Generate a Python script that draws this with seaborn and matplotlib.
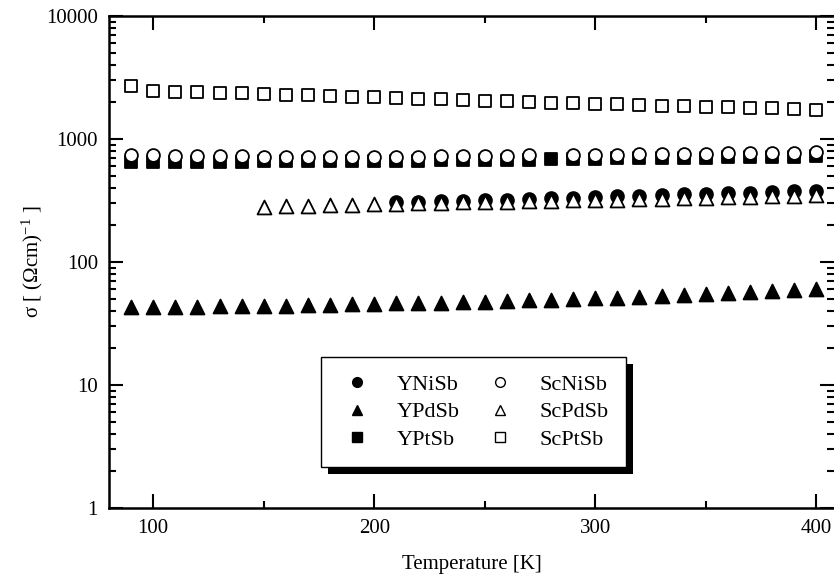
import numpy as np
import pandas as pd
import matplotlib
matplotlib.use("Agg")
import matplotlib.pyplot as plt
from matplotlib.lines import Line2D
from matplotlib.patches import Rectangle
from matplotlib.ticker import FuncFormatter, LogLocator, MultipleLocator
import seaborn as sns

# Data
t_full = list(range(90, 401, 10))
sc_pt = [2700, 2450, 2420, 2400, 2380, 2360, 2330, 2300, 2270, 2240, 2210,
         2180, 2160, 2130, 2100, 2080, 2050, 2030, 2000, 1980, 1960, 1940,
         1910, 1890, 1870, 1850, 1830, 1810, 1790, 1770, 1750, 1730]
t_scni = [t for t in t_full if t != 280]
sc_ni = [740, 735, 730, 728, 725, 722, 720, 720, 718, 718, 718, 715, 718,
         720, 722, 725, 728, 730, 735, 740, 745, 745, 750, 752, 755, 760,
         765, 768, 772, 775, 785]
y_pt = [650, 650, 652, 652, 655, 655, 657, 658, 660, 662, 663, 665, 667,
        668, 670, 672, 675, 677, 680, 690, 690, 692, 695, 698, 700, 703,
        706, 709, 712, 715, 718, 722]
t_yni = list(range(210, 401, 10))
y_ni = [305, 308, 312, 315, 318, 322, 326, 330, 334, 338, 342, 346, 350,
        354, 358, 362, 366, 370, 375, 380]
t_scpd = list(range(150, 401, 10))
sc_pd = [280, 283, 286, 290, 293, 296, 298, 300, 303, 305, 307, 310, 312,
         315, 317, 320, 322, 325, 327, 330, 333, 336, 339, 342, 345, 348]
y_pd = [43, 43, 43.2, 43.4, 43.6, 43.8, 44, 44.2, 44.5, 44.8, 45.2, 45.6,
        46, 46.4, 46.8, 47.2, 47.7, 48.2, 48.8, 49.4, 50, 50.7, 51.4, 52.2,
        53, 54, 55, 56, 57, 58, 59, 60.5]

series = [
    # name, temps, values, marker, filled
    ("YNiSb", t_yni, y_ni, "o", True),
    ("YPdSb", t_full, y_pd, "^", True),
    ("YPtSb", t_full, y_pt, "s", True),
    ("ScNiSb", t_scni, sc_ni, "o", False),
    ("ScPdSb", t_scpd, sc_pd, "^", False),
    ("ScPtSb", t_full, sc_pt, "s", False),
]

sns.set_style("ticks")
plt.rcParams["font.family"] = ["Liberation Serif", "DejaVu Serif"]
plt.rcParams["mathtext.fontset"] = "stix"
plt.rcParams["text.color"] = "black"
plt.rcParams["axes.labelcolor"] = "black"
plt.rcParams["xtick.color"] = "black"
plt.rcParams["ytick.color"] = "black"

fig = plt.figure(figsize=(8.34, 5.82), dpi=100)
ax = fig.add_axes([109 / 834, 1 - 508 / 582, 1 - 109 / 834, (508 - 16) / 582])

for name, tt, vv, mk, filled in series:
    df = pd.DataFrame({"T": tt, "sigma": vv})
    sz = 100 if mk == "^" else 85
    sns.scatterplot(data=df, x="T", y="sigma", ax=ax, marker=mk, s=sz,
                    color="black" if filled else "white",
                    edgecolor="black", linewidth=1.3, legend=False,
                    zorder=3)

ax.set_yscale("log")
ax.set_xlim(80, 408)
ax.set_ylim(1, 10000)
ax.xaxis.set_major_locator(MultipleLocator(100))
ax.xaxis.set_minor_locator(MultipleLocator(50))
ax.yaxis.set_major_locator(LogLocator(base=10))
ax.yaxis.set_minor_locator(LogLocator(base=10, subs=np.arange(2, 10)))
ax.yaxis.set_major_formatter(FuncFormatter(lambda v, p: "%g" % v))
ax.tick_params(which="both", direction="in", top=True, right=True,
               labelsize=15, width=1.5, pad=8, colors="black")
ax.tick_params(which="major", length=10)
ax.tick_params(which="minor", length=5)
for sp in ax.spines.values():
    sp.set_linewidth(1.8)
    sp.set_color("black")
ax.spines["right"].set_visible(False)

ax.set_xlabel("Temperature [K]", fontsize=15, labelpad=12)
ax.set_ylabel(r"σ [ (Ωcm)$^{\mathregular{-1}}$ ]", fontsize=15, labelpad=1)

handles = []
for name, tt, vv, mk, filled in series:
    handles.append(Line2D([], [], linestyle="none", marker=mk, markersize=7,
                          markerfacecolor="black" if filled else "white",
                          markeredgecolor="black", markeredgewidth=1.0,
                          label=name))
leg = ax.legend(handles=handles, ncol=2, loc="center",
                bbox_to_anchor=(0.503, 0.195), fontsize=16, frameon=True,
                fancybox=False, edgecolor="black", framealpha=1,
                borderpad=0.8, handletextpad=1.0, columnspacing=1.0,
                labelspacing=0.3, handlelength=1.6)
leg.get_frame().set_linewidth(1.0)
leg.set_zorder(10)

# black drop shadow behind the legend box
fig.canvas.draw()
bb = leg.get_window_extent().transformed(fig.transFigure.inverted())
dx, dy = 7 / 834, 7 / 582
ax.add_patch(Rectangle((bb.x0 + dx, bb.y0 - dy), bb.width, bb.height,
                       transform=fig.transFigure, facecolor="black",
                       edgecolor="none", zorder=9, clip_on=False))

fig.savefig("out.png", dpi=100)
